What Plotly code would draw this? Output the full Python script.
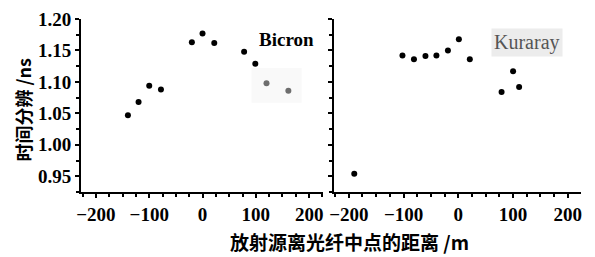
import plotly.graph_objects as go

# Bicron (left panel)
bicron_x = [-140, -120, -100, -78, -20, 0, 22, 78, 99]
bicron_y = [1.047, 1.068, 1.094, 1.088, 1.163, 1.177, 1.162, 1.148, 1.129]
bicron_faded_x = [120, 161]
bicron_faded_y = [1.098, 1.086]

# Kuraray (right panel)
kuraray_x = [-190, -102, -81, -60, -40, -19, 1, 21, 79, 100, 111]
kuraray_y = [0.954, 1.142, 1.136, 1.141, 1.142, 1.150, 1.168, 1.136, 1.084, 1.117, 1.092]

x_ticks = [-200, -100, 0, 100, 200]
y_ticks = [0.95, 1.00, 1.05, 1.10, 1.15, 1.20]

y_title = "时间分辨 /ns"
x_title = "放射源离光纤中点的距离 /m"

fig = go.Figure()
fig.add_trace(go.Scatter(x=bicron_x, y=bicron_y, mode="markers",
                         marker=dict(color="black", size=6), xaxis="x", yaxis="y"))
fig.add_trace(go.Scatter(x=bicron_faded_x, y=bicron_faded_y, mode="markers",
                         marker=dict(color="#6e6e6e", size=6), xaxis="x", yaxis="y"))
fig.add_trace(go.Scatter(x=kuraray_x, y=kuraray_y, mode="markers",
                         marker=dict(color="black", size=6), xaxis="x2", yaxis="y2"))

tickfont = dict(family="Liberation Serif", size=19, color="black", weight="bold")
common_x = dict(showline=True, linecolor="black", linewidth=2, ticks="outside",
                ticklen=4, tickwidth=1.5, tickcolor="black", tickvals=x_ticks,
                showgrid=False, zeroline=False, tickfont=tickfont, automargin=False,
                ticklabeloverflow="allow",
                minor=dict(dtick=25, tick0=0, ticks="outside", ticklen=3,
                           tickcolor="black", tickwidth=1.5))
common_y = dict(showline=True, linecolor="black", linewidth=2, ticks="outside",
                ticklen=4, tickwidth=1.5, tickcolor="black", range=[0.925, 1.20],
                tickvals=y_ticks, showgrid=False, zeroline=False, tickfont=tickfont,
                tickformat=".2f", automargin=False, ticklabeloverflow="allow",
                minor=dict(dtick=0.025, tick0=0.925, ticks="outside", ticklen=3,
                           tickcolor="black", tickwidth=1.5))

# page body adds an 8px offset; size the figure to fill the rest of the window
fig.update_layout(
    width=587, height=249,
    margin=dict(l=73, r=14, t=11, b=65),
    plot_bgcolor="white", paper_bgcolor="white",
    showlegend=False,
    xaxis=dict(domain=[0, 0.484], range=[-228, 226], anchor="y", **common_x),
    yaxis=dict(domain=[0, 1], anchor="x", **common_y),
    xaxis2=dict(domain=[0.506, 1], range=[-227, 224], anchor="y2", **common_x),
    yaxis2=dict(domain=[0, 1], anchor="x2", showticklabels=False, **common_y),
)

fig.add_shape(type="rect", xref="x", yref="y", x0=92, x1=186, y0=1.067, y1=1.122,
              fillcolor="#f9f9f9", line=dict(width=0), layer="below")

fig.add_annotation(x=158, y=1.167, xref="x", yref="y", text="Bicron", showarrow=False,
                   font=dict(family="Liberation Serif", size=19, color="black", weight="bold"))
fig.add_annotation(x=125, y=1.162, xref="x2", yref="y2", text="Kuraray", showarrow=False,
                   bgcolor="#ececec", borderpad=2,
                   font=dict(family="Liberation Serif", size=20, color="#555555"))

fig.add_annotation(x=-0.117, y=0.474, xref="paper", yref="paper", text=y_title,
                   textangle=-90, showarrow=False, xanchor="center", yanchor="middle",
                   font=dict(family="Noto Sans CJK SC", size=18, color="black", weight="bold"))
fig.add_annotation(x=0.536, y=-0.289, xref="paper", yref="paper", text=x_title,
                   showarrow=False, xanchor="center", yanchor="middle",
                   font=dict(family="Noto Sans CJK SC", size=19, color="black", weight="bold"))

fig.write_html("out.html")
